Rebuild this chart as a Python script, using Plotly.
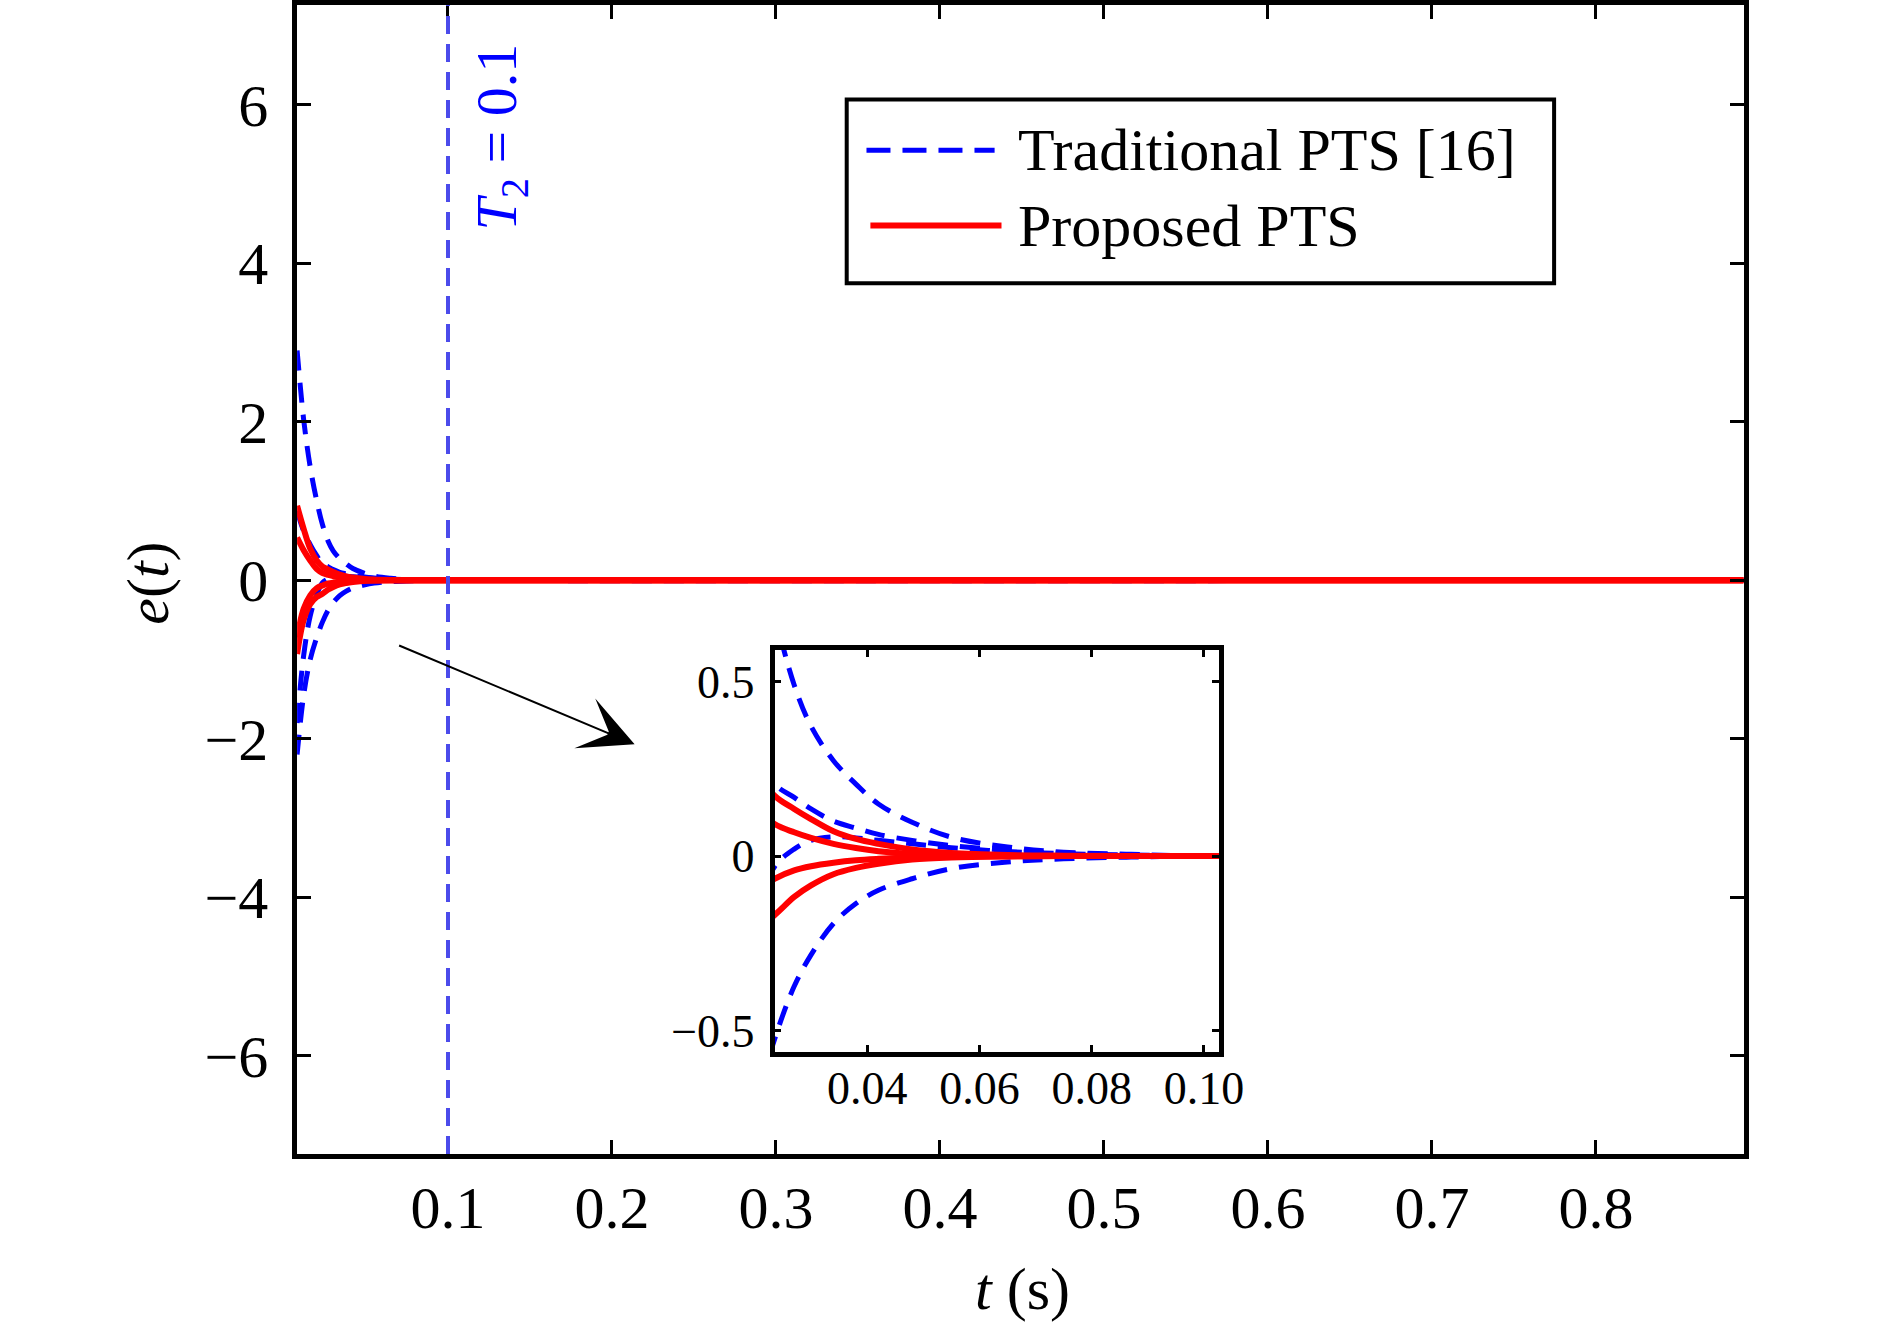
import plotly.graph_objects as go

t = [0.008, 0.012, 0.016, 0.020, 0.0235, 0.027, 0.030, 0.034, 0.038,
     0.042, 0.048, 0.055, 0.065, 0.075, 0.087, 0.100, 0.890]

# Traditional PTS [16]
trad_1 = [2.90, 2.03, 1.43, 1.00, 0.70, 0.49, 0.372, 0.273, 0.206,
          0.149, 0.097, 0.054, 0.026, 0.011, 0.005, 0.0, 0.0]
trad_2 = [0.87, 0.62, 0.45, 0.31, 0.206, 0.168, 0.135, 0.100, 0.080,
          0.062, 0.045, 0.030, 0.016, 0.008, 0.003, 0.0, 0.0]
trad_3 = [-1.80, -0.95, -0.45, -0.18, -0.031, 0.020, 0.045, 0.055, 0.052,
          0.045, 0.035, 0.024, 0.013, 0.007, 0.003, 0.0, 0.0]
trad_4 = [-2.20, -1.45, -1.00, -0.72, -0.525, -0.373, -0.283, -0.193, -0.136,
          -0.098, -0.065, -0.036, -0.017, -0.008, -0.003, 0.0, 0.0]

# Proposed PTS
prop_1 = [0.94, 0.65, 0.40, 0.25, 0.173, 0.135, 0.106, 0.071, 0.049,
          0.035, 0.019, 0.009, 0.003, 0.001, 0.0, 0.0, 0.0]
prop_2 = [0.54, 0.38, 0.25, 0.14, 0.092, 0.068, 0.052, 0.035, 0.023,
          0.014, 0.006, 0.002, 0.0005, 0.0, 0.0, 0.0, 0.0]
prop_3 = [-0.72, -0.36, -0.19, -0.10, -0.065, -0.041, -0.029, -0.019, -0.012,
          -0.008, -0.004, -0.002, -0.0005, 0.0, 0.0, 0.0, 0.0]
prop_4 = [-0.93, -0.50, -0.30, -0.21, -0.169, -0.117, -0.084, -0.052, -0.034,
          -0.022, -0.010, -0.004, -0.001, 0.0, 0.0, 0.0, 0.0]

traditional = [trad_1, trad_2, trad_3, trad_4]
proposed = [prop_1, prop_2, prop_3, prop_4]

T2 = 0.1
main_xticks = [0.1, 0.2, 0.3, 0.4, 0.5, 0.6, 0.7, 0.8]
main_yticks = [-6, -4, -2, 0, 2, 4, 6]
inset_xticks = [0.04, 0.06, 0.08, 0.10]
inset_yticks = [-0.5, 0, 0.5]

FONT = 'Liberation Serif'
BLUE = '#0000ff'
RED = '#ff0000'

fig = go.Figure()

for xa, ya in (('x', 'y'), ('x2', 'y2')):
    for vals in traditional:
        fig.add_trace(go.Scatter(
            x=t, y=vals, mode='lines', xaxis=xa, yaxis=ya, showlegend=False,
            line=dict(color=BLUE, width=5, dash='20px,12px',
                      shape='spline', smoothing=1.0)))
    for vals in proposed:
        fig.add_trace(go.Scatter(
            x=t, y=vals, mode='lines', xaxis=xa, yaxis=ya, showlegend=False,
            line=dict(color=RED, width=6, shape='spline', smoothing=1.0)))

axis_common = dict(
    showline=True, linecolor='black', mirror='ticks', ticks='inside',
    tickcolor='black', showgrid=False, zeroline=False,
)

fig.update_layout(
    width=1890, height=1329,
    margin=dict(l=0, r=0, t=0, b=0),
    paper_bgcolor='white', plot_bgcolor='white',
    font=dict(family=FONT, color='black'),
    xaxis=dict(domain=[0.1593, 0.9349], range=[0.008, 0.89],
               tickvals=main_xticks, ticklen=14, tickwidth=3, linewidth=4.5,
               tickfont=dict(size=60, family=FONT), ticklabelstandoff=-3,
               **axis_common),
    yaxis=dict(domain=[0.1287, 0.9985], range=[-7.24, 7.26],
               tickvals=main_yticks, ticklen=14, tickwidth=3, linewidth=4.5,
               tickfont=dict(size=60, family=FONT), ticklabelstandoff=12,
               **axis_common),
    xaxis2=dict(domain=[0.4153, 0.6534], range=[0.0235, 0.1026], anchor='y2',
                tickvals=inset_xticks, tickformat='.2f', ticklen=7,
                tickwidth=3, linewidth=4.5,
                tickfont=dict(size=46, family=FONT), ticklabelstandoff=-8,
                **axis_common),
    yaxis2=dict(domain=[0.2062, 0.5102], range=[-0.56, 0.59], anchor='x2',
                tickvals=inset_yticks, ticklen=7, tickwidth=3, linewidth=4.5,
                tickfont=dict(size=46, family=FONT), ticklabelstandoff=6,
                **axis_common),
)

# T2 marker line
fig.add_shape(type='line', xref='x', yref='y domain', x0=T2, x1=T2, y0=0, y1=1,
              line=dict(color='rgb(75,75,235)', width=4, dash='18px,10px'))

# legend drawn by hand to match the long line samples
fig.add_shape(type='rect', xref='paper', yref='paper',
              x0=0.454, x1=0.8333, y0=0.7878, y1=0.927,
              line=dict(color='black', width=4), fillcolor='white')
fig.add_shape(type='line', xref='paper', yref='paper',
              x0=0.4646, x1=0.5333, y0=0.8886, y1=0.8886,
              line=dict(color=BLUE, width=5, dash='24px,12px'))
fig.add_shape(type='line', xref='paper', yref='paper',
              x0=0.4667, x1=0.537, y0=0.8315, y1=0.8315,
              line=dict(color=RED, width=6))

annotations = [
    dict(text='Traditional PTS [16]', x=0.545, y=0.8886, xanchor='left'),
    dict(text='Proposed PTS', x=0.545, y=0.8315, xanchor='left'),
    dict(text='<i>e</i>(<i>t</i>)', x=0.0795, y=0.5606, textangle=-90),
    dict(text='<i>t</i> (s)', x=0.548, y=0.0, yanchor='bottom'),
    dict(text='<i>T</i><sub>2</sub> = 0.1', x=0.2683, y=0.8984, textangle=-90,
         font=dict(size=58, family=FONT, color=BLUE)),
]
for a in annotations:
    a.setdefault('font', dict(size=60, family=FONT, color='black'))
    a.setdefault('xanchor', 'center')
    a.setdefault('yanchor', 'middle')
    fig.add_annotation(xref='paper', yref='paper', showarrow=False, **a)

# zoom arrow pointing at the inset
fig.add_annotation(x=0.2138, y=-2.07, ax=0.0693, ay=-0.815,
                   xref='x', yref='y', axref='x', ayref='y', text='',
                   showarrow=True, arrowhead=3, arrowsize=4.5, arrowwidth=2,
                   arrowcolor='black')

fig.write_html('out.html', config={'displayModeBar': False},
               post_script="document.body.style.margin='0px';")
